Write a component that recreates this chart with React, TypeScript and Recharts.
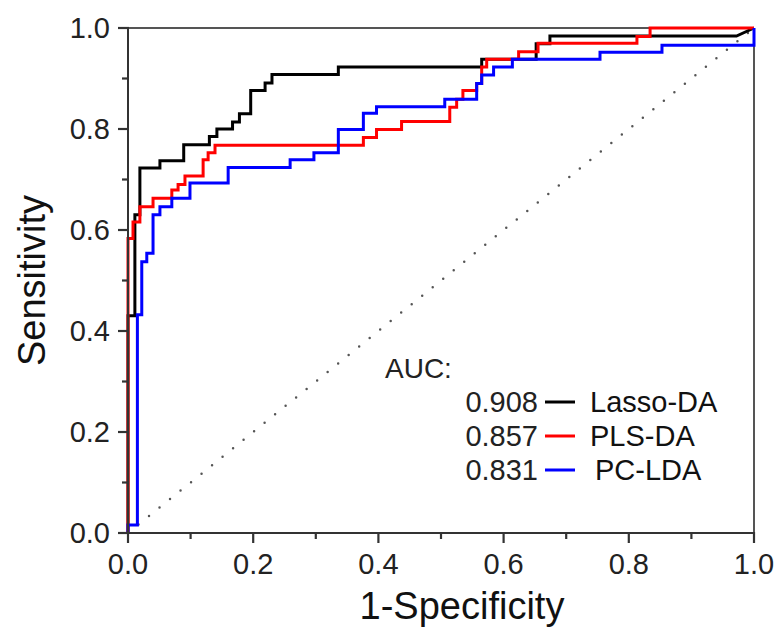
import React from "react";
import { LineChart, Line, XAxis, YAxis, ReferenceLine } from "recharts";

const FONT = '"Liberation Sans", Arial, Helvetica, sans-serif';
const AXIS = "#333333";

const lassoX = [0, 0, 0.011, 0.019, 0.051, 0.089, 0.13, 0.142, 0.167, 0.178, 0.196, 0.219, 0.23, 0.336, 0.565, 0.652, 0.674, 0.972];
const lassoY = [0, 0.43, 0.63, 0.723, 0.737, 0.769, 0.785, 0.8, 0.814, 0.83, 0.876, 0.891, 0.908, 0.923, 0.938, 0.969, 0.984, 0.984];
const lassoEnd = { x: 1, y: 1 };

const plsX = [0, 0, 0.008, 0.019, 0.04, 0.07, 0.08, 0.091, 0.12, 0.128, 0.139, 0.376, 0.397, 0.437, 0.514, 0.525, 0.535, 0.557, 0.565, 0.573, 0.624, 0.655, 0.813, 0.834, 1.0];
const plsY = [0, 0.583, 0.616, 0.646, 0.663, 0.679, 0.69, 0.707, 0.739, 0.753, 0.768, 0.783, 0.799, 0.815, 0.843, 0.859, 0.876, 0.89, 0.923, 0.938, 0.953, 0.97, 0.983, 1.0, 1.0];

const pcX = [0, 0, 0.015, 0.022, 0.03, 0.04, 0.051, 0.07, 0.099, 0.16, 0.259, 0.297, 0.336, 0.376, 0.397, 0.506, 0.557, 0.565, 0.584, 0.614, 0.754, 0.853, 1.0];
const pcY = [0, 0.016, 0.432, 0.537, 0.554, 0.63, 0.646, 0.663, 0.693, 0.724, 0.739, 0.753, 0.799, 0.831, 0.844, 0.859, 0.89, 0.907, 0.923, 0.938, 0.952, 0.966, 1.0];

const chanceLine = [{ x: 0, y: 0 }, { x: 1, y: 1 }];

const ticks = [0, 0.1, 0.2, 0.3, 0.4, 0.5, 0.6, 0.7, 0.8, 0.9, 1.0];

const series = [
  { name: "Lasso-DA", auc: "0.908", color: "#000000" },
  { name: "PLS-DA", auc: "0.857", color: "#ff0000" },
  { name: "PC-LDA", auc: "0.831", color: "#0000ff" },
];

function toSteps(xs: number[], ys: number[]) {
  const pts: { x: number; y: number }[] = [{ x: xs[0], y: ys[0] }];
  for (let i = 1; i < xs.length; i++) {
    pts.push({ x: xs[i], y: ys[i - 1] });
    pts.push({ x: xs[i], y: ys[i] });
  }
  return pts;
}

const lassoData = [...toSteps(lassoX, lassoY), lassoEnd];
const plsData = toSteps(plsX, plsY);
const pcData = toSteps(pcX, pcY);

const MAJOR = 10;
const MINOR = 6;

const XTick = (props: any) => {
  const { x, y, payload, index } = props;
  const major = index % 2 === 0;
  const len = major ? MAJOR : MINOR;
  return (
    <g>
      <path d={`M${x},${y - 1}V${y + len}`} stroke={AXIS} strokeWidth={2.2} fill="none" />
      {major && (
        <text x={x} y={y + 41} textAnchor="middle" fontFamily={FONT} fontSize={29} fill="#222" stroke="none">
          {Number(payload.value).toFixed(1)}
        </text>
      )}
    </g>
  );
};

const YTick = (props: any) => {
  const { x, y, payload, index } = props;
  const major = index % 2 === 0;
  const len = major ? MAJOR : MINOR;
  return (
    <g>
      <path d={`M${x + 1},${y}H${x - len}`} stroke={AXIS} strokeWidth={2.2} fill="none" />
      {major && (
        <text x={x - 18} y={y + 10} textAnchor="end" fontFamily={FONT} fontSize={29} fill="#222" stroke="none">
          {Number(payload.value).toFixed(1)}
        </text>
      )}
    </g>
  );
};

const XTitle = (props: any) => {
  const vb = props.viewBox;
  return (
    <text x={vb.x + vb.width / 2 + 21} y={vb.y + 86} textAnchor="middle" fontFamily={FONT} fontSize={38} fill="#111">
      1-Specificity
    </text>
  );
};

const YTitle = (props: any) => {
  const vb = props.viewBox;
  const cx = 45;
  const cy = vb.y + vb.height / 2;
  return (
    <text x={cx} y={cy} transform={`rotate(-90 ${cx} ${cy})`} textAnchor="middle" fontFamily={FONT} fontSize={38} fill="#111">
      Sensitivity
    </text>
  );
};

export default function App() {
  return (
    <div style={{ position: "absolute", left: 0, top: 0, width: 782, height: 629, background: "#fff" }}>
      <LineChart width={782} height={629} margin={{ top: 28, right: 28, bottom: 36, left: 0 }}>
        <XAxis
          type="number"
          dataKey="x"
          domain={[0, 1]}
          ticks={ticks}
          interval={0}
          tickSize={0}
          tickMargin={0}
          tickLine={false}
          tick={<XTick />}
          height={60}
          axisLine={{ stroke: AXIS, strokeWidth: 2 }}
          label={<XTitle />}
        />
        <YAxis
          type="number"
          dataKey="y"
          domain={[0, 1]}
          ticks={ticks}
          interval={0}
          tickSize={0}
          tickMargin={0}
          tickLine={false}
          tick={<YTick />}
          width={128}
          axisLine={{ stroke: AXIS, strokeWidth: 2 }}
          label={<YTitle />}
        />
        <ReferenceLine y={1} stroke="#555" strokeWidth={2} />
        <ReferenceLine x={1} stroke="#555" strokeWidth={2} />
        <Line
          data={chanceLine}
          dataKey="y"
          type="linear"
          stroke="#555"
          strokeWidth={2.5}
          strokeDasharray="0 13.5"
          strokeLinecap="round"
          dot={false}
          activeDot={false}
          isAnimationActive={false}
        />
        <Line data={lassoData} dataKey="y" type="linear" stroke={series[0].color} strokeWidth={3} dot={false} activeDot={false} isAnimationActive={false} />
        <Line data={plsData} dataKey="y" type="linear" stroke={series[1].color} strokeWidth={3} dot={false} activeDot={false} isAnimationActive={false} />
        <Line data={pcData} dataKey="y" type="linear" stroke={series[2].color} strokeWidth={3} dot={false} activeDot={false} isAnimationActive={false} />
      </LineChart>
      <svg width={782} height={629} style={{ position: "absolute", left: 0, top: 0, pointerEvents: "none" }}>
        <text x={385} y={378} fontFamily={FONT} fontSize={28} fill="#222">AUC:</text>
        {series.map((s, i) => {
          const base = 412 + i * 34;
          return (
            <g key={s.name}>
              <text x={538} y={base} textAnchor="end" fontFamily={FONT} fontSize={29} fill="#222">{s.auc}</text>
              <line x1={545} x2={575} y1={base - 10} y2={base - 10} stroke={s.color} strokeWidth={3} />
              <text x={i === 2 ? 595 : 590} y={base} fontFamily={FONT} fontSize={29} fill="#111">{s.name}</text>
            </g>
          );
        })}
      </svg>
    </div>
  );
}
